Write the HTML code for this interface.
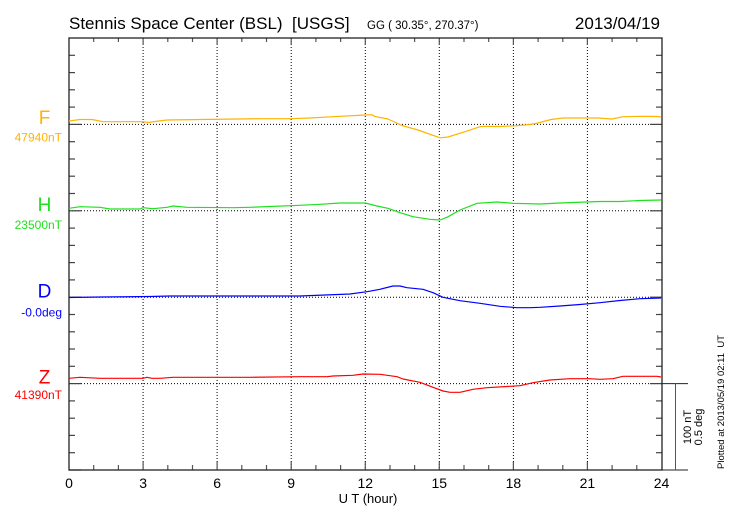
<!DOCTYPE html>
<html>
<head>
<meta charset="utf-8">
<style>
html,body{margin:0;padding:0;background:#fff;}
svg{display:block;}
text{font-family:"Liberation Sans","DejaVu Sans",sans-serif;white-space:pre;}
</style>
</head>
<body>
<svg width="730" height="520" viewBox="0 0 730 520" xmlns="http://www.w3.org/2000/svg" xml:space="preserve">
<rect width="730" height="520" fill="#fff"/>
<!-- titles -->
<text x="69" y="29" font-size="17" fill="#000">Stennis Space Center (BSL)  [USGS]</text>
<text x="367" y="29" font-size="11.5" fill="#000">GG ( 30.35°, 270.37°)</text>
<text x="660" y="29" font-size="17" fill="#000" text-anchor="end">2013/04/19</text>

<!-- vertical dotted grid -->
<g stroke="#000" stroke-width="1" stroke-dasharray="1,2" fill="none">
<line x1="143.1" y1="38" x2="143.1" y2="470"/>
<line x1="217.1" y1="38" x2="217.1" y2="470"/>
<line x1="291.2" y1="38" x2="291.2" y2="470"/>
<line x1="365.3" y1="38" x2="365.3" y2="470"/>
<line x1="439.3" y1="38" x2="439.3" y2="470"/>
<line x1="513.4" y1="38" x2="513.4" y2="470"/>
<line x1="587.4" y1="38" x2="587.4" y2="470"/>
<line x1="69" y1="124.4" x2="662" y2="124.4"/>
<line x1="69" y1="210.8" x2="662" y2="210.8"/>
<line x1="69" y1="297.2" x2="662" y2="297.2"/>
<line x1="69" y1="383.6" x2="662" y2="383.6"/>
</g>

<!-- ticks -->
<g stroke="#555" stroke-width="1.2">
<line x1="93.7" y1="38" x2="93.7" y2="42"/><line x1="118.4" y1="38" x2="118.4" y2="42"/>
<line x1="167.8" y1="38" x2="167.8" y2="42"/><line x1="192.5" y1="38" x2="192.5" y2="42"/>
<line x1="241.8" y1="38" x2="241.8" y2="42"/><line x1="266.5" y1="38" x2="266.5" y2="42"/>
<line x1="315.9" y1="38" x2="315.9" y2="42"/><line x1="340.6" y1="38" x2="340.6" y2="42"/>
<line x1="390" y1="38" x2="390" y2="42"/><line x1="414.6" y1="38" x2="414.6" y2="42"/>
<line x1="464" y1="38" x2="464" y2="42"/><line x1="488.7" y1="38" x2="488.7" y2="42"/>
<line x1="538.1" y1="38" x2="538.1" y2="42"/><line x1="562.8" y1="38" x2="562.8" y2="42"/>
<line x1="612.1" y1="38" x2="612.1" y2="42"/><line x1="636.8" y1="38" x2="636.8" y2="42"/>
<line x1="93.7" y1="470" x2="93.7" y2="465"/><line x1="118.4" y1="470" x2="118.4" y2="465"/>
<line x1="167.8" y1="470" x2="167.8" y2="465"/><line x1="192.5" y1="470" x2="192.5" y2="465"/>
<line x1="241.8" y1="470" x2="241.8" y2="465"/><line x1="266.5" y1="470" x2="266.5" y2="465"/>
<line x1="315.9" y1="470" x2="315.9" y2="465"/><line x1="340.6" y1="470" x2="340.6" y2="465"/>
<line x1="390" y1="470" x2="390" y2="465"/><line x1="414.6" y1="470" x2="414.6" y2="465"/>
<line x1="464" y1="470" x2="464" y2="465"/><line x1="488.7" y1="470" x2="488.7" y2="465"/>
<line x1="538.1" y1="470" x2="538.1" y2="465"/><line x1="562.8" y1="470" x2="562.8" y2="465"/>
<line x1="612.1" y1="470" x2="612.1" y2="465"/><line x1="636.8" y1="470" x2="636.8" y2="465"/>
<line x1="143.1" y1="470" x2="143.1" y2="462"/><line x1="217.1" y1="470" x2="217.1" y2="462"/>
<line x1="291.2" y1="470" x2="291.2" y2="462"/><line x1="365.3" y1="470" x2="365.3" y2="462"/>
<line x1="439.3" y1="470" x2="439.3" y2="462"/><line x1="513.4" y1="470" x2="513.4" y2="462"/>
<line x1="587.4" y1="470" x2="587.4" y2="462"/>
<line x1="143.1" y1="38" x2="143.1" y2="45"/><line x1="217.1" y1="38" x2="217.1" y2="45"/>
<line x1="291.2" y1="38" x2="291.2" y2="45"/><line x1="365.3" y1="38" x2="365.3" y2="45"/>
<line x1="439.3" y1="38" x2="439.3" y2="45"/><line x1="513.4" y1="38" x2="513.4" y2="45"/>
<line x1="587.4" y1="38" x2="587.4" y2="45"/>
</g>
<g stroke="#444" stroke-width="1.2">
<line x1="69" y1="55.3" x2="75" y2="55.3"/><line x1="69" y1="72.6" x2="75" y2="72.6"/>
<line x1="69" y1="89.8" x2="75" y2="89.8"/><line x1="69" y1="107.1" x2="75" y2="107.1"/>
<line x1="69" y1="124.4" x2="81" y2="124.4"/><line x1="69" y1="141.7" x2="75" y2="141.7"/>
<line x1="69" y1="159" x2="75" y2="159"/><line x1="69" y1="176.2" x2="75" y2="176.2"/>
<line x1="69" y1="193.5" x2="75" y2="193.5"/><line x1="69" y1="210.8" x2="81" y2="210.8"/>
<line x1="69" y1="228.1" x2="75" y2="228.1"/><line x1="69" y1="245.4" x2="75" y2="245.4"/>
<line x1="69" y1="262.6" x2="75" y2="262.6"/><line x1="69" y1="279.9" x2="75" y2="279.9"/>
<line x1="69" y1="297.2" x2="81" y2="297.2"/><line x1="69" y1="314.5" x2="75" y2="314.5"/>
<line x1="69" y1="331.8" x2="75" y2="331.8"/><line x1="69" y1="349" x2="75" y2="349"/>
<line x1="69" y1="366.3" x2="75" y2="366.3"/><line x1="69" y1="383.6" x2="81" y2="383.6"/>
<line x1="69" y1="400.9" x2="75" y2="400.9"/><line x1="69" y1="418.2" x2="75" y2="418.2"/>
<line x1="69" y1="435.4" x2="75" y2="435.4"/><line x1="69" y1="452.7" x2="75" y2="452.7"/>
<line x1="69" y1="470" x2="81" y2="470"/>
</g>
<g stroke="#444" stroke-width="1.2">
<line x1="662" y1="55.3" x2="656" y2="55.3"/><line x1="662" y1="72.6" x2="656" y2="72.6"/>
<line x1="662" y1="89.8" x2="656" y2="89.8"/><line x1="662" y1="107.1" x2="656" y2="107.1"/>
<line x1="662" y1="124.4" x2="650" y2="124.4"/><line x1="662" y1="141.7" x2="656" y2="141.7"/>
<line x1="662" y1="159" x2="656" y2="159"/><line x1="662" y1="176.2" x2="656" y2="176.2"/>
<line x1="662" y1="193.5" x2="656" y2="193.5"/><line x1="662" y1="210.8" x2="650" y2="210.8"/>
<line x1="662" y1="228.1" x2="656" y2="228.1"/><line x1="662" y1="245.4" x2="656" y2="245.4"/>
<line x1="662" y1="262.6" x2="656" y2="262.6"/><line x1="662" y1="279.9" x2="656" y2="279.9"/>
<line x1="662" y1="297.2" x2="650" y2="297.2"/><line x1="662" y1="314.5" x2="656" y2="314.5"/>
<line x1="662" y1="331.8" x2="656" y2="331.8"/><line x1="662" y1="349" x2="656" y2="349"/>
<line x1="662" y1="366.3" x2="656" y2="366.3"/><line x1="662" y1="383.6" x2="650" y2="383.6"/>
<line x1="662" y1="400.9" x2="656" y2="400.9"/><line x1="662" y1="418.2" x2="656" y2="418.2"/>
<line x1="662" y1="435.4" x2="656" y2="435.4"/><line x1="662" y1="452.7" x2="656" y2="452.7"/>
</g>

<!-- frame -->
<rect x="69" y="38" width="593" height="432" fill="none" stroke="#222" stroke-width="1.3"/>

<!-- scale bar -->
<g stroke="#222" stroke-width="1">
<line x1="662" y1="383.6" x2="688" y2="383.6"/>
<line x1="662" y1="470" x2="688" y2="470"/>
<line x1="675.5" y1="383.6" x2="675.5" y2="470" stroke="#555"/>
</g>
<text transform="translate(691,427) rotate(-90)" font-size="11" text-anchor="middle" fill="#000">100 nT</text>
<text transform="translate(702,427) rotate(-90)" font-size="11" text-anchor="middle" fill="#000">0.5 deg</text>
<text transform="translate(724,402) rotate(-90)" font-size="9.5" text-anchor="middle" fill="#000">Plotted at 2013/05/19 02:11  UT</text>

<!-- series -->
<g fill="none" stroke-width="1.2" stroke-linejoin="round">
<polyline stroke="#ffb400" points="69,121 80,119.5 92,119.5 103,121.7 143,121.7 148,122.5 155,121.5 167,120 260,118.7 290,118.7 310,118 333,116.7 365,115 372,114.7 375,116.5 388,119 402,125.5 418,130 440,137.8 448,137 465,131.7 480,126.7 485,126.3 500,126.5 515,125.8 530,124.5 538,123 551,119.5 563,118 598,118 612,119 623,116.7 642,116.3 657,116.5 661,117"/>
<polyline stroke="#1ee01e" points="69,208.3 80,206.7 100,207.3 110,209 140,209 143,207.7 153,208.7 167,207.3 173,206 187,207.3 233,207.7 250,207.3 300,205.3 320,204.3 340,203 365,203 377,206 388,208.3 400,212.7 413,216.7 430,219.3 440,220 447,217.3 460,210 477,203.3 497,202 513,203.3 540,204 560,203 600,201.5 620,201.5 640,200.5 661,200"/>
<polyline stroke="#0000ff" points="69,297.5 100,297 150,296.5 170,296 250,296 300,296 350,294 367,291.7 380,289.3 393,286 400,286 407,287.7 423,289.3 433,292.7 443,297.3 460,300.7 480,303.3 500,306.3 517,307.7 530,307.7 540,307.3 560,306 580,304.5 600,302.7 620,300.5 640,298.7 661,298"/>
<polyline stroke="#ff0000" points="69,378.3 80,377.3 100,378.3 143,378.3 147,377.3 152,378.3 160,378.3 173,377.3 250,377.3 300,376.7 327,376.7 333,376 353,375.3 363,374 380,374.3 397,376.7 403,379 420,382.3 433,387.3 443,391 450,392.3 460,392.3 473,389.3 487,387.7 510,386.3 520,385.7 533,382.7 550,380 570,378.7 590,378.7 600,379.3 613,378.7 623,376.3 657,376.3 661,377"/>
</g>

<!-- channel labels -->
<text x="44.5" y="124" font-size="19" text-anchor="middle" fill="#ffb400">F</text>
<text x="62" y="141.5" font-size="12" text-anchor="end" fill="#ffb400">47940nT</text>
<text x="44.5" y="211" font-size="19" text-anchor="middle" fill="#1ee01e">H</text>
<text x="62" y="229" font-size="12" text-anchor="end" fill="#1ee01e">23500nT</text>
<text x="44.5" y="297.3" font-size="19" text-anchor="middle" fill="#0000ff">D</text>
<text x="62" y="316.5" font-size="12" text-anchor="end" fill="#0000ff">-0.0deg</text>
<text x="44.5" y="383.3" font-size="19" text-anchor="middle" fill="#ff0000">Z</text>
<text x="62" y="399" font-size="12" text-anchor="end" fill="#ff0000">41390nT</text>

<!-- x tick labels -->
<g font-size="14" text-anchor="middle" fill="#000">
<text x="69" y="488">0</text>
<text x="143.1" y="488">3</text>
<text x="217.1" y="488">6</text>
<text x="291.2" y="488">9</text>
<text x="365.3" y="488">12</text>
<text x="439.3" y="488">15</text>
<text x="513.4" y="488">18</text>
<text x="587.4" y="488">21</text>
<text x="661.5" y="488">24</text>
</g>
<text x="368" y="503" font-size="13" text-anchor="middle" fill="#000">U T (hour)</text>
</svg>
</body>
</html>
